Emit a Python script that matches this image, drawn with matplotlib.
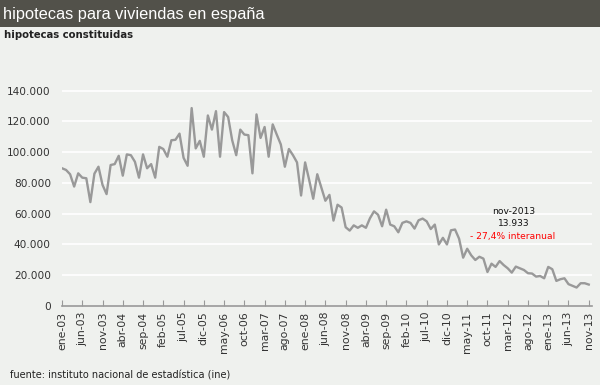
import matplotlib
matplotlib.use("Agg")
import matplotlib.pyplot as plt
import numpy as np

# ---- data (monthly, ene-03 .. nov-13) ----
months_es = ["ene", "feb", "mar", "abr", "may", "jun", "jul", "ago", "sep", "oct", "nov", "dic"]
hipotecas = [
    89500, 88400, 85600, 77600, 86200, 83400, 83000, 67500, 86000, 90500, 78700, 72700,   # 2003
    91600, 92200, 97600, 84700, 98500, 98000, 93700, 83400, 98500, 89500, 92200, 83400,   # 2004
    103400, 102000, 97000, 107700, 108000, 112000, 96300, 91100, 128600, 102400, 107300, 97000,  # 2005
    123800, 114600, 126600, 97000, 126000, 122800, 107700, 98000, 114600, 111400, 111000, 86200,  # 2006
    124500, 109200, 116300, 97000, 118000, 111400, 105000, 90500, 102000, 98000, 93300, 71800,  # 2007
    93300, 81900, 69700, 85600, 77000, 68400, 72200, 55500, 65800, 64000, 51200, 49000,   # 2008
    52400, 50800, 52400, 50800, 57000, 61500, 59300, 51800, 62600, 52900, 51800, 47900,   # 2009
    54000, 55000, 54000, 50300, 55700, 56800, 55000, 50000, 52900, 40000, 44300, 40000,   # 2010
    49200, 49700, 43700, 31400, 37200, 32900, 29900, 32000, 30800, 22100, 27500, 25400,   # 2011
    29200, 26600, 24500, 21700, 25600, 24500, 23400, 21300, 21100, 19100, 19500, 18000,   # 2012
    25400, 23900, 16300, 17400, 18000, 14200, 13100, 12000, 14800, 14800, 13933,          # 2013
]
n = len(hipotecas)
labels = [f"{months_es[i % 12]}-{(3 + i // 12):02d}" for i in range(n)]
tick_idx = list(range(0, n, 5))
yticks = list(range(0, 140001, 20000))
ytick_labels = ["0"] + [f"{v // 1000}.000" for v in yticks[1:]]

title = "hipotecas para viviendas en españa"
subtitle = "hipotecas constituidas"
source = "fuente: instituto nacional de estadística (ine)"
ann_date = "nov-2013"
ann_value = "13.933"
ann_change = "- 27,4% interanual"

BG = "#eff1ee"
W, H = 600, 385
fig = plt.figure(figsize=(W / 100, H / 100), dpi=100, facecolor=BG)

# title bar
fig.patches.append(plt.Rectangle((0, 1 - 27 / H), 1, 27 / H, transform=fig.transFigure,
                                 facecolor="#52514a", edgecolor="none", zorder=0))
fig.text(3 / W, 1 - 14 / H, title, color="white", fontsize=11.8, va="center", ha="left",
         family="Liberation Sans")
fig.text(4 / W, 1 - 35.5 / H, subtitle, color="#222222", fontsize=7.3, fontweight="bold",
         va="center", ha="left", family="DejaVu Sans")
fig.text(10 / W, 1 - 375.5 / H, source, color="#222222", fontsize=7.0, va="center",
         ha="left", family="DejaVu Sans")

ax_left, ax_right = 62 / W, 592 / W
ax_bottom, ax_top = 1 - 306 / H, 1 - 89 / H
ax = fig.add_axes([ax_left, ax_bottom, ax_right - ax_left, ax_top - ax_bottom])
ax.set_facecolor(BG)
x = np.arange(n)
ax.plot(x, hipotecas, color="#999999", lw=1.7, solid_joinstyle="round", zorder=3)
ax.set_xlim(0, 130.8)
ax.set_ylim(0, 141000)
ax.set_yticks(yticks)
ax.set_yticklabels(ytick_labels)
ax.set_xticks(tick_idx)
ax.set_xticklabels([labels[i] for i in tick_idx], rotation=90)
for v in yticks[1:]:
    ax.axhline(v, color="white", lw=1.2, zorder=1)
for s in ["top", "right", "left"]:
    ax.spines[s].set_visible(False)
ax.spines["bottom"].set_color("#999999")
ax.spines["bottom"].set_linewidth(1.2)
ax.tick_params(axis="y", length=0, pad=8, labelsize=7.6, labelcolor="#333333")
ax.tick_params(axis="x", direction="in", length=4, color="#999999", pad=4, labelsize=7.8,
               labelcolor="#333333")

# annotation
ax.text(111.5, 61500, ann_date, ha="center", va="center", fontsize=6.6, color="#111111")
ax.text(111.5, 53800, ann_value, ha="center", va="center", fontsize=6.6, color="#111111")
ax.text(111.3, 45200, ann_change, ha="center", va="center", fontsize=6.6, color="#ff0000")

fig.savefig("out.png", dpi=100, facecolor=BG)
